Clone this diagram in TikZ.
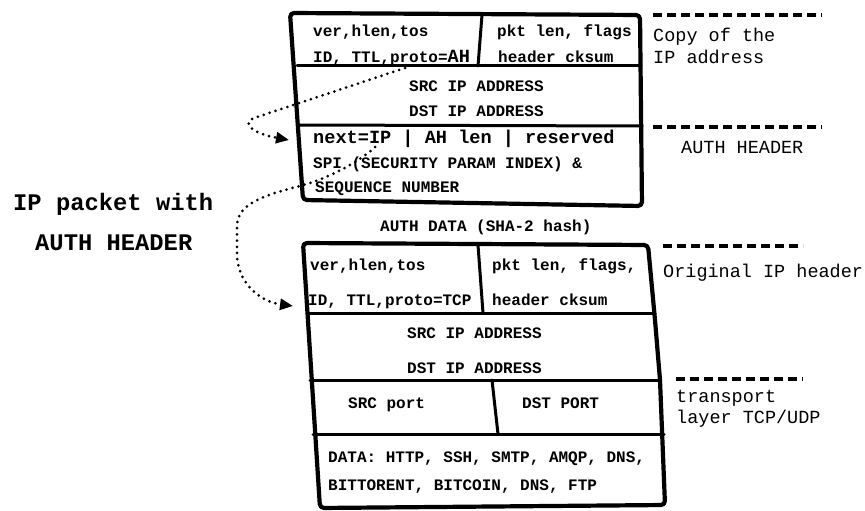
\documentclass[tikz,border=0pt]{standalone}
\usepackage{fontspec}
\setmainfont{Liberation Mono}
\usetikzlibrary{arrows.meta}
\begin{document}
\begin{tikzpicture}[x=1pt,y=-1pt,
  cell/.style={anchor=base west,inner sep=0pt,font=\bfseries\fontsize{16}{18}\selectfont},
  bigcell/.style={anchor=base west,inner sep=0pt,font=\bfseries\fontsize{18.6}{20}\selectfont},
  side/.style={anchor=base west,inner sep=0pt,font=\fontsize{18.5}{20}\selectfont},
  title/.style={anchor=base west,inner sep=0pt,font=\bfseries\fontsize{23.8}{26}\selectfont},
  outer/.style={line width=4.2pt,rounded corners=4pt,line join=round},
  inner/.style={line width=3pt,line cap=round},
  sepline/.style={line width=3.2pt,dash pattern=on 9pt off 5pt},
  dotline/.style={line width=3pt,dash pattern=on 0pt off 6.2pt,line cap=round,
    -{Triangle[length=13pt,width=11pt]}}
]
\useasboundingbox (0,0) rectangle (865,511);

% ---------- top box (AH packet header part) ----------
\draw[outer] (290,13) -- (640,15) -- (642,206) -- (303,200) -- cycle;
\draw[inner] (297,66) -- (641,66);
\draw[inner] (299,125) -- (642,126);
\draw[inner] (482,15) -- (478,66);

\node[cell] (t1) at (313,36.5) {ver,hlen,tos};
\node[cell] (t2) at (313,63) {ID, TTL,proto={\fontsize{18.6}{20}\selectfont AH}};
\node[cell] (t3) at (497,36.5) {pkt len, flags};
\node[cell] (t4) at (498,63) {header cksum};
\node[cell] (t5) at (409,92) {SRC IP ADDRESS};
\node[cell] (t6) at (409,117) {DST IP ADDRESS};
\node[bigcell] (t7) at (313,143) {next=IP | AH len | reserved};
\node[cell] (t8) at (313,168) {SPI (SECURITY PARAM INDEX) \&};
\node[cell] (t9) at (315,192) {SEQUENCE NUMBER};
\node[cell] (ad) at (380,231) {AUTH DATA (SHA-2 hash)};

% ---------- bottom box (original packet) ----------
\draw[outer] (303,243) -- (648,245) -- (655,320) -- (660,380) -- (665,505) -- (320,508) -- cycle;
\draw[inner] (307,313) -- (655,313);
\draw[inner] (310,380) -- (660,380);
\draw[inner] (313,434) -- (664,434);
\draw[inner] (478,245) -- (483,313);
\draw[inner] (492,380) -- (498,434);

\node[cell] (b1) at (310,270) {ver,hlen,tos};
\node[cell] (b2) at (308,305) {ID, TTL,proto=TCP};
\node[cell] (b3) at (492,270) {pkt len, flags,};
\node[cell] (b4) at (492,305) {header cksum};
\node[cell] (b5) at (407,338) {SRC IP ADDRESS};
\node[cell] (b6) at (407,373) {DST IP ADDRESS};
\node[cell] (b7) at (348,408) {SRC port};
\node[cell] (b8) at (522,408) {DST PORT};
\node[cell] (b9) at (328,462) {DATA: HTTP, SSH, SMTP, AMQP, DNS,};
\node[cell] (b10) at (328,490) {BITTORENT, BITCOIN, DNS, FTP};

% ---------- left title ----------
\node[title] (L1) at (13,210) {IP packet with};
\node[title] (L2) at (35,250) {AUTH HEADER};

% ---------- right labels ----------
\coordinate (s1a) at (653,15);  \coordinate (s1b) at (822,15);
\coordinate (s2a) at (653,127); \coordinate (s2b) at (822,127);
\coordinate (s3a) at (663,246); \coordinate (s3b) at (803,246);
\coordinate (s4a) at (676,379); \coordinate (s4b) at (803,379);
\draw[sepline] (s1a) -- (s1b);
\draw[sepline] (s2a) -- (s2b);
\draw[sepline] (s3a) -- (s3b);
\draw[sepline] (s4a) -- (s4b);
\node[side] (r1) at (653,42) {Copy of the};
\node[side] (r2) at (653,64) {IP address};
\node[side] (r3) at (681,153) {AUTH HEADER};
\node[side] (r4) at (663,277) {Original IP header};
\node[side] (r5) at (676,402) {transport};
\node[side] (r6) at (676,423) {layer TCP/UDP};

% ---------- dotted arrows ----------
\coordinate (a1s) at (405,68);
\coordinate (a1e) at (289,140);
\coordinate (a2s) at (375,147);
\coordinate (a2e) at (293,306);
\draw[dotline] (a1s) -- (254,118) .. controls (242,122) and (250,133) .. (a1e);
\draw[dotline] (a2s) .. controls (362,160) and (330,178) .. (300,186)
  .. controls (260,196) and (238,205) .. (237,225) -- (237,255)
  .. controls (238,285) and (262,302) .. (a2e);
\end{tikzpicture}
\end{document}
